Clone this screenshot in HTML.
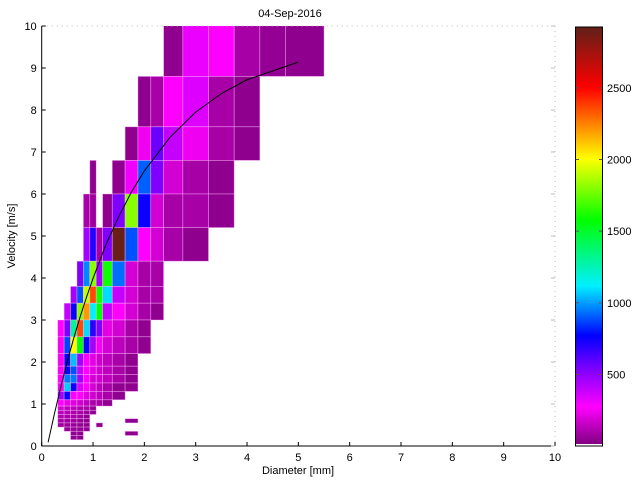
<!DOCTYPE html>
<html><head><meta charset="utf-8"><style>
html,body{margin:0;padding:0;background:#fff;}
svg text{font-family:"Liberation Sans",sans-serif;}
</style></head><body>
<svg id="chart" width="640" height="480" viewBox="0 0 640 480" xmlns="http://www.w3.org/2000/svg">
<defs><clipPath id="pc"><rect x="41.7" y="26" width="513.3" height="420"/></clipPath>
<linearGradient id="cbg" x1="0" y1="1" x2="0" y2="0"></linearGradient></defs>
<text x="290" y="17" font-size="11" text-anchor="middle">04-Sep-2016</text>
<g id="cells" clip-path="url(#pc)"></g>
<g id="curve" clip-path="url(#pc)"></g>
<g id="axes"></g>
<text x="298" y="474" font-size="11" text-anchor="middle">Diameter [mm]</text>
<text transform="translate(15,236) rotate(-90)" font-size="11" text-anchor="middle">Velocity [m/s]</text>
<g id="cbar"></g>
</svg>
<script>
// bin edges (diameter mm, velocity m/s)
const diamEdges=[0.062,0.187,0.312,0.437,0.562,0.687,0.812,0.937,1.062,1.187,1.375,1.625,1.875,2.125,2.375,2.75,3.25,3.75,4.25,4.75,5.5,6.5];
const velEdges=[0.05,0.15,0.25,0.35,0.45,0.55,0.65,0.75,0.85,0.95,1.1,1.3,1.5,1.7,1.9,2.2,2.6,3.0,3.4,3.8,4.4,5.2,6.0,6.8,7.6,8.8,10.4];
// segments: velocity row index, start diameter column, counts
const segRow=[25,24,23,22,22,21,21,20,19,18,17,16,15,14,13,12,11,10,9,8,7,6,5,5,4,4,3,2,2,1];
const segCol=[14,12,11,7,10,6,9,6,5,4,3,2,2,2,2,2,2,2,2,2,2,2,2,11,2,8,3,4,11,4];
const segVals=[
[30,300,260,80,40,30],
[30,80,260,330,80,30],
[30,230,560,380,230,80,30],
[30],
[30,290,900,520,170,80,30],
[80,60],
[30,520,1800,740,170,80,80,30],
[450,700,80,520,2900,880,260,170,80,30],
[520,960,1800,450,1600,920,170,80,80],
[450,880,1900,2350,1600,1080,380,170,80,80],
[380,740,1800,2200,1110,1570,380,260,170,80,30],
[260,520,1300,2350,1080,680,520,200,170,80,30],
[240,860,2000,1570,740,450,240,170,120,80,30],
[240,740,1040,450,260,200,160,120,80,30],
[240,740,880,380,260,200,160,120,80,30],
[260,940,940,450,260,170,160,120,80,30],
[240,1060,740,330,260,170,120,80,30,30],
[450,740,260,260,200,160,120,80,30],
[260,220,200,160,120,80,80,30],
[160,120,120,80,80,30],
[120,100,80,80,60,30],
[100,80,80,60,30],
[80,60,60,40,30],[30],
[60,50,40,30,30],[30],
[40,40,30,30],
[30,30],[30],
[30,30]];
// fall velocity curve
const curveD=[0.125,0.25,0.375,0.5,0.625,0.75,0.875,1.0,1.25,1.5,1.75,2.0,2.5,3.0,3.5,4.0,5.0];
const curveV=[0.09,0.78,1.42,2.02,2.57,3.08,3.55,3.99,4.79,5.46,6.05,6.55,7.35,7.95,8.39,8.72,9.14];
const xTicks=[0,1,2,3,4,5,6,7,8,9,10];
const yTicks=[0,1,2,3,4,5,6,7,8,9,10];
const cbTicks=[500,1000,1500,2000,2500];
const cmapVals=[0,260,520,760,1110,1570,2000,2500,2925];
const cmapCols=["#800080","#ff00ff","#8000ff","#0000ff","#00f0ff","#00ff00","#ffff00","#ff0000","#602018"];

const X0=41.7,X1=555,Y0=446,Y1=26;
const sx=d=>X0+(X1-X0)*d/10;
const sy=v=>Y0-(Y0-Y1)*v/10;
const CB0=446,CB1=27,CBMAX=2925;
const scb=c=>CB0-(CB0-CB1)*c/CBMAX;
function hex(h){return [1,3,5].map(i=>parseInt(h.substr(i,2),16));}
function color(v){
  for(let i=1;i<cmapVals.length;i++){
    if(v<=cmapVals[i]){const t=(v-cmapVals[i-1])/(cmapVals[i]-cmapVals[i-1]);
      const a=hex(cmapCols[i-1]),b=hex(cmapCols[i]);
      return 'rgb('+a.map((x,k)=>Math.round(x+(b[k]-x)*t)).join(',')+')';}
  }
  return cmapCols[cmapCols.length-1];
}
const NS='http://www.w3.org/2000/svg';
function mk(tag,attrs,parent){const e=document.createElementNS(NS,tag);for(const k in attrs)e.setAttribute(k,attrs[k]);parent.appendChild(e);return e;}
const cells=document.getElementById('cells');
segRow.forEach((r,s)=>{
  segVals[s].forEach((v,k)=>{
    const c=segCol[s]+k;
    const x=sx(diamEdges[c]),x2=sx(diamEdges[c+1]),y=sy(velEdges[r+1]),y2=sy(velEdges[r]);
    const e=mk('rect',{x:x,y:y,width:x2-x,height:y2-y,fill:color(v),stroke:'rgba(255,190,255,0.55)','stroke-width':0.7},cells);
    
    
  });
});
const curve=document.getElementById('curve');
const pl=mk('polyline',{points:curveD.map((d,i)=>sx(d)+','+sy(curveV[i])).join(' '),fill:'none',stroke:'#000','stroke-width':1},curve);



const ax=document.getElementById('axes');
mk('line',{x1:X0,y1:Y1,x2:X1,y2:Y1,stroke:'#bbb','stroke-dasharray':'1,4'},ax);
mk('line',{x1:X1,y1:Y1,x2:X1,y2:Y0,stroke:'#bbb','stroke-dasharray':'1,4'},ax);
mk('line',{x1:X0,y1:Y0,x2:X1,y2:Y0,stroke:'#000','stroke-width':1},ax);
mk('line',{x1:X0,y1:Y0,x2:X0,y2:Y1,stroke:'#000','stroke-width':1},ax);
xTicks.forEach(t=>{
  mk('line',{x1:sx(t),y1:Y0,x2:sx(t),y2:Y0-4,stroke:'#000'},ax);
  const e=mk('text',{x:sx(t),y:Y0+15,'font-size':11,'text-anchor':'middle'},ax);e.textContent=t;
  
  
});
yTicks.forEach(t=>{
  mk('line',{x1:X0,y1:sy(t),x2:X0+4,y2:sy(t),stroke:'#000'},ax);
  mk('line',{x1:X1,y1:sy(t),x2:X1-4,y2:sy(t),stroke:'#bbb'},ax);
  const e=mk('text',{x:X0-5,y:sy(t)+4,'font-size':11,'text-anchor':'end'},ax);e.textContent=t;
  
  
});
const cb=document.getElementById('cbar');
const grad=document.getElementById('cbg');
cmapVals.forEach((v,i)=>{mk('stop',{offset:v/CBMAX,'stop-color':cmapCols[i]},grad);});
mk('rect',{x:575.5,y:CB1,width:27,height:CB0-CB1-2,fill:'url(#cbg)'},cb);
mk('rect',{x:575.5,y:CB1,width:27,height:CB0-CB1,fill:'none',stroke:'#000','stroke-width':1},cb);
cbTicks.forEach(t=>{
  mk('line',{x1:575.5,y1:scb(t),x2:579,y2:scb(t),stroke:'#555'},cb);
  mk('line',{x1:599,y1:scb(t),x2:602.5,y2:scb(t),stroke:'#555'},cb);
  const e=mk('text',{x:607,y:scb(t)+4,'font-size':11},cb);e.textContent=t;
  
  
});
</script>
</body></html>
